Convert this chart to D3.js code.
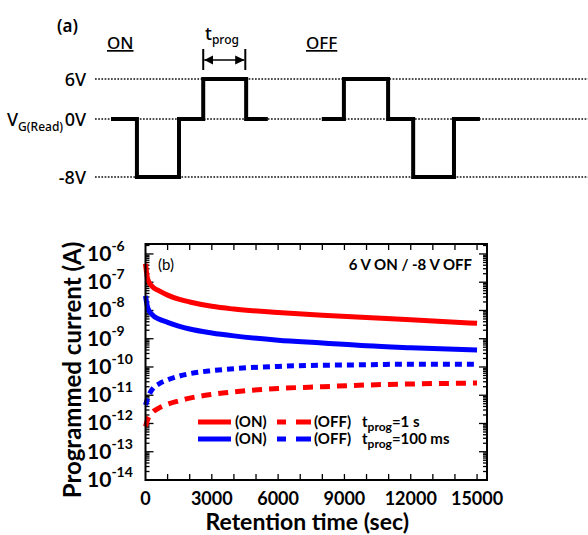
<!DOCTYPE html>
<html>
<head>
<meta charset="utf-8">
<script src="https://cdn.jsdelivr.net/npm/d3@7"></script>
<style>
  body { margin: 0; background: #fff; }
  svg { display: block; }
</style>
</head>
<body>
<svg id="chart" width="588" height="535"></svg>
<script>
// --- panel (a): gate pulse sequence (time in units of t_prog, voltage in V)
const onPulseT = [0, 0.61, 0.61, 1.6, 1.6, 2.17, 2.17, 3.18, 3.18, 3.69];
const onPulseV = [0, 0, -8, -8, 0, 0, 6, 6, 0, 0];
const offPulseT = [4.96, 5.48, 5.48, 6.52, 6.52, 7.11, 7.11, 8.07, 8.07, 8.68];
const offPulseV = [0, 0, 6, 6, 0, 0, -8, -8, 0, 0];
const levels = [6, 0, -8];
const levelLabels = ["6V", "0V", "-8V"];
const tprogSpan = [2.17, 3.16];

// --- panel (b): retention data
const retTime = [0, 100, 300, 600, 1000, 1500, 2000, 3000, 4000, 6000, 8000, 10000, 12000, 15000];
const on1s    = [4.5e-7, 1.26e-7, 7.1e-8, 5.0e-8, 3.5e-8, 2.5e-8, 2.0e-8, 1.4e-8, 1.12e-8, 8.5e-9, 6.8e-9, 5.6e-9, 4.7e-9, 3.5e-9];
const off1s   = [7.9e-13, 1.4e-12, 2.4e-12, 3.5e-12, 4.8e-12, 6.3e-12, 7.9e-12, 1.07e-11, 1.32e-11, 1.74e-11, 2.0e-11, 2.3e-11, 2.5e-11, 2.7e-11];
const on100   = [3.3e-8, 1.26e-8, 7.1e-9, 5.0e-9, 3.8e-9, 2.8e-9, 2.2e-9, 1.6e-9, 1.26e-9, 8.9e-10, 7.1e-10, 5.6e-10, 4.8e-10, 4.0e-10];
const off100  = [4.5e-12, 7.9e-12, 1.6e-11, 2.5e-11, 3.5e-11, 4.7e-11, 5.8e-11, 7.4e-11, 8.7e-11, 1.05e-10, 1.15e-10, 1.2e-10, 1.26e-10, 1.26e-10];
const xTickVals = [0, 3000, 6000, 9000, 12000, 15000];
const yTickExps = [-6, -7, -8, -9, -10, -11, -12, -13, -14];

const svg = d3.select("#chart");

// ================= panel (a) =================
const xA = d3.scaleLinear().domain([0, 1]).range([111, 153.5]);
const yA = d3.scaleLinear().domain([-8, 0, 6]).range([177, 119, 79]);
const fontA = "'Noto Sans', sans-serif";

svg.append("text").attr("x", 57).attr("y", 32)
  .attr("font-family", fontA).attr("font-size", 17).attr("font-weight", 600)
  .text("(a)");

// dotted reference lines
svg.append("g").selectAll("line").data(levels).join("line")
  .attr("x1", 95).attr("x2", 588)
  .attr("y1", d => yA(d)).attr("y2", d => yA(d))
  .attr("stroke", "#111").attr("stroke-width", 1.7)
  .attr("stroke-dasharray", "1.7,1.5");

svg.append("g").selectAll("text").data(levels).join("text")
  .attr("x", 86).attr("y", d => yA(d) + 6.5)
  .attr("text-anchor", "end")
  .attr("font-family", fontA).attr("font-size", 18).attr("font-weight", 500)
  .text((d, i) => levelLabels[i]);

const vg = svg.append("text").attr("x", 7).attr("y", yA(0) + 6.5)
  .attr("font-family", fontA).attr("font-size", 18).attr("font-weight", 500);
vg.append("tspan").text("V");
vg.append("tspan").attr("font-size", 12).attr("dy", 5).text("G(Read)");

// ON / OFF headers
[["ON", 107], ["OFF", 306]].forEach(([t, xx]) => {
  svg.append("text").attr("x", xx).attr("y", 49)
    .attr("font-family", fontA).attr("font-size", 17).attr("font-weight", 500)
    .attr("text-decoration", "underline")
    .text(t);
});

const wave = d3.line().x(d => xA(d[0])).y(d => yA(d[1]));
[[onPulseT, onPulseV], [offPulseT, offPulseV]].forEach(([ts, vs]) => {
  svg.append("path")
    .attr("d", wave(ts.map((t, i) => [t, vs[i]])))
    .attr("fill", "none").attr("stroke", "#000").attr("stroke-width", 4)
    .attr("stroke-linejoin", "miter");
});

// t_prog marker
const ax0 = xA(tprogSpan[0]), ax1 = xA(tprogSpan[1]);
svg.append("defs").html(`
  <marker id="ah" viewBox="0 0 10 10" refX="10" refY="5" markerWidth="7" markerHeight="7" orient="auto-start-reverse">
    <path d="M0,0 L10,5 L0,10 z" fill="#000"/>
  </marker>`);
[ax0, ax1].forEach(xx => {
  svg.append("line").attr("x1", xx).attr("x2", xx).attr("y1", 49).attr("y2", 70)
    .attr("stroke", "#000").attr("stroke-width", 2);
});
svg.append("line").attr("x1", ax0 + 1).attr("x2", ax1 - 1).attr("y1", 60).attr("y2", 60)
  .attr("stroke", "#000").attr("stroke-width", 1.3)
  .attr("marker-start", "url(#ah)").attr("marker-end", "url(#ah)");
const tp = svg.append("text").attr("x", 205).attr("y", 40)
  .attr("font-family", fontA).attr("font-size", 18).attr("font-weight", 500);
tp.append("tspan").text("t");
tp.append("tspan").attr("font-size", 12).attr("dy", 4).text("prog");

// ================= panel (b) =================
const x = d3.scaleLinear().domain([0, 15450]).range([145.5, 487]);
const y = d3.scaleLog().domain([1e-14, 2.25e-6]).range([480, 244]);
const fontB = "Lato, sans-serif";
const pLeft = x.range()[0], pRight = x.range()[1], pTop = y.range()[1], pBottom = y.range()[0];

const axes = svg.append("g").attr("stroke", "#000");
// x ticks (every 1000, inward, top & bottom)
d3.range(1000, 15001, 1000).forEach(v => {
  axes.append("line").attr("x1", x(v)).attr("x2", x(v)).attr("y1", pBottom).attr("y2", pBottom - 6).attr("stroke-width", 1.3);
  axes.append("line").attr("x1", x(v)).attr("x2", x(v)).attr("y1", pTop).attr("y2", pTop + 6).attr("stroke-width", 1.3);
});
// y ticks: majors & minors on both sides
y.ticks().forEach(v => {
  const e = Math.log10(v);
  const major = Math.abs(e - Math.round(e)) < 1e-6;
  const len = major ? 8 : 4;
  axes.append("line").attr("x1", pLeft).attr("x2", pLeft + len).attr("y1", y(v)).attr("y2", y(v)).attr("stroke-width", 1.3);
  axes.append("line").attr("x1", pRight).attr("x2", pRight - len).attr("y1", y(v)).attr("y2", y(v)).attr("stroke-width", 1.3);
});

// x tick labels
svg.append("g").selectAll("text").data(xTickVals).join("text")
  .attr("x", d => x(d)).attr("y", 505)
  .attr("text-anchor", "middle")
  .attr("font-family", fontB).attr("font-size", 18).attr("font-weight", 700)
  .text(d => d);

// y tick labels
yTickExps.forEach(e => {
  const t = svg.append("text").attr("x", 87).attr("y", y(Math.pow(10, e)) + 7)
    .attr("font-family", fontB).attr("font-weight", 700).attr("font-size", 21);
  t.append("tspan").text("10");
  t.append("tspan").attr("font-size", 14).attr("dy", -10).text(e);
});

// axis titles
svg.append("text").attr("x", (pLeft + pRight) / 2 - 9).attr("y", 530)
  .attr("text-anchor", "middle")
  .attr("font-family", fontB).attr("font-size", 23).attr("font-weight", 700)
  .text("Retention time (sec)");
svg.append("text")
  .attr("transform", `translate(81,370) rotate(-90)`)
  .attr("text-anchor", "middle")
  .attr("font-family", fontB).attr("font-size", 24).attr("font-weight", 700)
  .text("Programmed current (A)");

// curves
const line = d3.line().x(d => x(d[0])).y(d => y(d[1])).curve(d3.curveMonotoneX);
const series = [
  { vals: on1s, color: "#ff0000", dash: null },
  { vals: on100, color: "#0000ff", dash: null },
  { vals: off1s, color: "#ff0000", dash: "10,7" },
  { vals: off100, color: "#0000ff", dash: "7,5" }
];
series.forEach(s => {
  svg.append("path")
    .attr("d", line(retTime.map((t, i) => [t, s.vals[i]])))
    .attr("fill", "none").attr("stroke", s.color).attr("stroke-width", 5)
    .attr("stroke-dasharray", s.dash);
});

// frame
svg.append("rect").attr("x", pLeft).attr("y", pTop)
  .attr("width", pRight - pLeft).attr("height", pBottom - pTop)
  .attr("fill", "none").attr("stroke", "#000").attr("stroke-width", 2);

svg.append("text").attr("x", 158).attr("y", 270)
  .attr("font-family", fontB).attr("font-size", 15).attr("font-weight", 400)
  .text("(b)");
svg.append("text").attr("x", 472).attr("y", 270).attr("text-anchor", "end")
  .attr("font-family", fontB).attr("font-size", 15).attr("font-weight", 700)
  .text("6 V ON / -8 V OFF");

// legend
const legendRows = [
  { color: "#ff0000", tp: "=1 s", y: 422 },
  { color: "#0000ff", tp: "=100 ms", y: 439 }
];
legendRows.forEach(r => {
  svg.append("line").attr("x1", 198).attr("x2", 231).attr("y1", r.y).attr("y2", r.y)
    .attr("stroke", r.color).attr("stroke-width", 5);
  svg.append("line").attr("x1", 277).attr("x2", 311).attr("y1", r.y).attr("y2", r.y)
    .attr("stroke", r.color).attr("stroke-width", 5).attr("stroke-dasharray", "9,10,15");
  const g = svg.append("g").attr("font-family", fontB).attr("font-size", 15).attr("font-weight", 700);
  g.append("text").attr("x", 235).attr("y", r.y + 5).text("(ON)");
  g.append("text").attr("x", 314).attr("y", r.y + 5).text("(OFF)");
  const t = g.append("text").attr("x", 362).attr("y", r.y + 5);
  t.append("tspan").text("t");
  t.append("tspan").attr("font-size", 12).attr("dy", 4).text("prog");
  t.append("tspan").attr("dy", -4).text(r.tp);
});
</script>
</body>
</html>
